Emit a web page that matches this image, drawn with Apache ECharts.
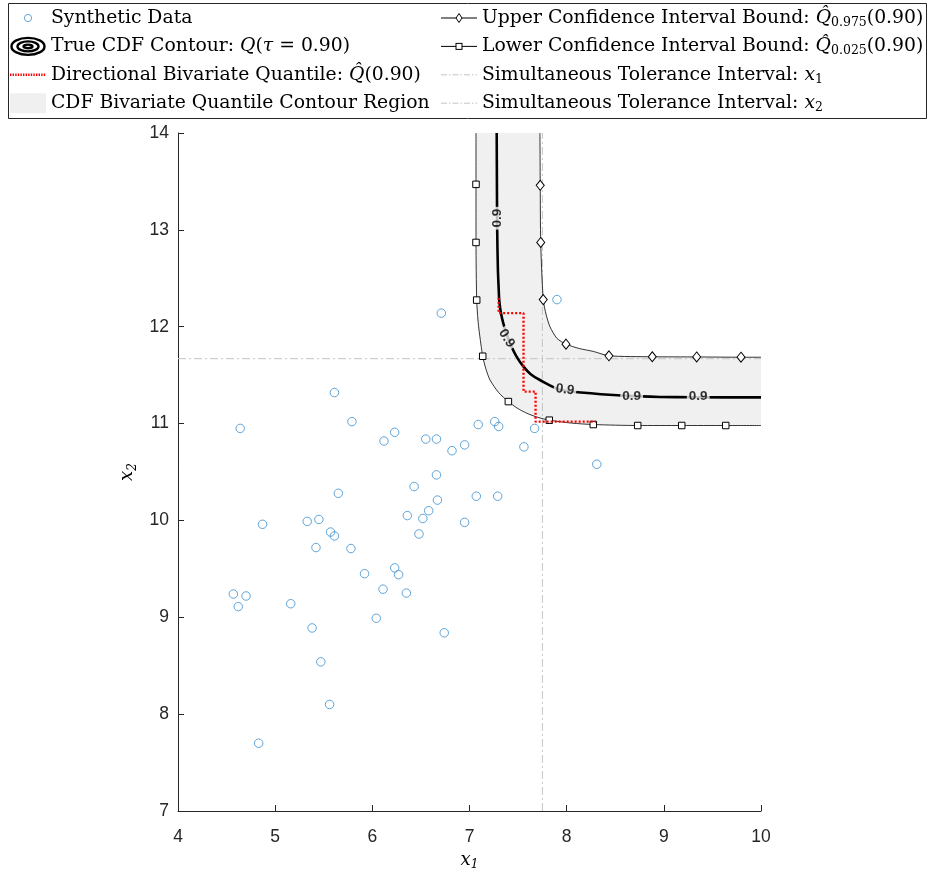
<!DOCTYPE html>
<html>
<head>
<meta charset="utf-8">
<script src="https://cdn.jsdelivr.net/npm/echarts@6/dist/echarts.min.js"></script>
<style>html,body{margin:0;padding:0;background:#fff}#c{width:928px;height:869px}</style>
</head>
<body>
<div id="c"></div>
<script>
// ---------- data ----------
const scatterX = [6.71,7.90,4.64,5.79,5.61,6.12,6.23,6.55,6.66,6.82,6.95,7.09,7.26,7.30,7.56,7.67,8.31,6.66,6.43,5.65,6.67,7.07,7.29,4.87,5.33,5.45,5.57,5.61,5.42,5.78,6.36,6.58,6.52,6.48,6.95,5.92,6.23,6.27,6.11,6.35,4.57,4.70,4.62,5.16,6.04,5.38,5.47,6.74,5.56,4.83];
const scatterY = [12.14,12.28,10.95,11.02,11.32,10.82,10.91,10.84,10.84,10.72,10.78,10.99,11.02,10.97,10.76,10.95,10.58,10.47,10.35,10.28,10.21,10.25,10.25,9.96,9.99,10.01,9.88,9.84,9.72,9.71,10.05,10.10,10.02,9.86,9.98,9.45,9.51,9.44,9.29,9.25,9.24,9.22,9.11,9.14,8.99,8.89,8.54,8.84,8.10,7.70];

const contourX = [7.280,7.282,7.285,7.292,7.300,7.306,7.322,7.348,7.380,7.417,7.480,7.554,7.630,7.725,7.931,8.274,8.618,8.960,9.303,10.0];
const contourY = [14.00,13.50,13.00,12.60,12.40,12.275,12.15,12.035,11.93,11.83,11.70,11.59,11.51,11.45,11.35,11.31,11.286,11.275,11.272,11.27];

const upperX = [7.725,7.728,7.733,7.759,7.790,7.828,7.900,7.993,8.130,8.274,8.435,8.881,9.338,9.794,10.0];
const upperY = [14.00,13.46,12.87,12.28,12.12,12.00,11.88,11.82,11.775,11.745,11.70,11.69,11.688,11.685,11.685];
const upperMarkers = [1,2,3,7,10,11,12,13];

const lowerX = [7.067,7.067,7.067,7.074,7.087,7.100,7.136,7.170,7.211,7.300,7.400,7.490,7.589,7.700,7.821,8.050,8.274,8.731,9.184,9.637,10.0];
const lowerY = [14.00,13.47,12.87,12.275,12.07,11.95,11.695,11.56,11.45,11.32,11.227,11.16,11.107,11.065,11.035,11.005,10.99,10.98,10.98,10.98,10.98];
const lowerMarkers = [1,2,3,6,10,14,16,17,18,19];

const quantX = [7.30,7.30,7.556,7.556,7.68,7.68,8.30];
const quantY = [12.30,12.14,12.14,11.33,11.33,11.02,11.02];

const tolX1 = 7.75;
const tolX2 = 11.67;

const labelX = [7.283,7.383,7.983,8.669,9.354];
const labelY = [13.12,11.88,11.35,11.28,11.28];
const labelRot = [90,-58,-8,0,0];

const xTicks = [4,5,6,7,8,9,10];
const yTicks = [7,8,9,10,11,12,13,14];

// ---------- names ----------
const N = {
  data: 'Synthetic Data',
  contour: 'True CDF Contour',
  quant: 'Directional Bivariate Quantile',
  band: 'CDF Bivariate Quantile Contour Region',
  upper: 'Upper Confidence Interval Bound',
  lower: 'Lower Confidence Interval Bound',
  tol1: 'Simultaneous Tolerance Interval x1',
  tol2: 'Simultaneous Tolerance Interval x2'
};
const QH = 'Q\u0302';
const legendText = {};
legendText[N.data] = 'Synthetic Data';
legendText[N.contour] = 'True CDF Contour: {i|Q}({i|\u03c4} = 0.90)';
legendText[N.quant] = 'Directional Bivariate Quantile: {i|' + QH + '}(0.90)';
legendText[N.band] = 'CDF Bivariate Quantile Contour Region';
legendText[N.upper] = 'Upper Confidence Interval Bound: {i|' + QH + '}{s|0.975}(0.90)';
legendText[N.lower] = 'Lower Confidence Interval Bound: {i|' + QH + '}{s|0.025}(0.90)';
legendText[N.tol1] = 'Simultaneous Tolerance Interval: {i|x}{s|1}';
legendText[N.tol2] = 'Simultaneous Tolerance Interval: {i|x}{s|2}';

// ---------- icons ----------
function svgIcon(body) {
  const s = "<svg xmlns='http://www.w3.org/2000/svg' width='72' height='44' viewBox='0 0 36 22'>" + body + "</svg>";
  return 'image://data:image/svg+xml;charset=utf-8,' + encodeURIComponent(s);
}
const icons = {};
icons[N.data] = svgIcon("<circle cx='18' cy='11' r='3.6' fill='none' stroke='#3a8fd0' stroke-width='1'/>");
icons[N.contour] = svgIcon("<g fill='none' stroke='#000' stroke-width='2.4'><ellipse cx='18' cy='11' rx='16.5' ry='8.5'/><ellipse cx='18' cy='11' rx='10.5' ry='5'/><ellipse cx='18' cy='11' rx='4.5' ry='1.8'/></g>");
icons[N.quant] = svgIcon("<line x1='0' y1='11' x2='36' y2='11' stroke='#ff0000' stroke-width='2.4' stroke-dasharray='1.4 1.2'/>");
icons[N.band] = svgIcon("<rect x='0' y='1' width='36' height='20' fill='#f0f0f0'/>");
icons[N.upper] = svgIcon("<line x1='0' y1='11' x2='36' y2='11' stroke='#000' stroke-width='1'/><polygon points='18,6.5 21,11 18,15.5 15,11' fill='#fff' stroke='#000' stroke-width='1'/>");
icons[N.lower] = svgIcon("<line x1='0' y1='11' x2='36' y2='11' stroke='#000' stroke-width='1'/><rect x='15' y='8' width='6' height='6' fill='#fff' stroke='#000' stroke-width='1'/>");
icons[N.tol1] = svgIcon("<line x1='0' y1='11' x2='36' y2='11' stroke='#c4c4c4' stroke-width='1' stroke-dasharray='6 2 1.5 2'/>");
icons[N.tol2] = icons[N.tol1];

// ---------- build ----------
const zip = (xs, ys) => xs.map((x, i) => [x, ys[i]]);
const withMarkers = (xs, ys, marks, sym) => xs.map((x, i) => ({
  value: [x, ys[i]],
  symbol: marks.indexOf(i) >= 0 ? sym : 'none'
}));
const bandPts = zip(lowerX, lowerY).concat(zip(upperX, upperY).reverse());

const serif = 'DejaVu Serif';
const FS = 18.8;
const rich = {
  i: { fontFamily: serif, fontStyle: 'italic', fontSize: FS, color: '#000', lineHeight: 22 },
  s: { fontFamily: serif, fontSize: 12.5, color: '#000', verticalAlign: 'bottom', lineHeight: 22 }
};
function mkLegend(names, left) {
  return {
    orient: 'vertical', left: left, top: 7, itemWidth: 36, itemHeight: 22, itemGap: 6.4,
    padding: 0, selectedMode: false, symbolKeepAspect: false,
    data: names.map(n => ({ name: n, icon: icons[n] })),
    formatter: n => legendText[n],
    textStyle: { fontFamily: serif, fontSize: FS, color: '#000', lineHeight: 22, rich: rich }
  };
}

const axisCommon = {
  type: 'value',
  axisLine: { show: true, lineStyle: { color: '#262626', width: 1 } },
  axisTick: { show: true, inside: true, length: 6, lineStyle: { color: '#262626' } },
  axisLabel: { color: '#262626', fontSize: 17.5, fontFamily: 'Liberation Sans' },
  splitLine: { show: false },
  nameLocation: 'middle',
  nameTextStyle: {
    fontFamily: serif, fontStyle: 'italic', fontSize: 18, color: '#000',
    rich: {
      i: { fontFamily: serif, fontStyle: 'italic', fontSize: 18, color: '#000', lineHeight: 22 },
      s: { fontFamily: serif, fontSize: 12, color: '#000', verticalAlign: 'bottom', lineHeight: 22 }
    }
  }
};

const option = {
  animation: false,
  backgroundColor: '#fff',
  grid: { left: 178, right: 167, top: 133, bottom: 58, containLabel: false, outerBoundsMode: 'none' },
  xAxis: Object.assign({}, axisCommon, {
    min: xTicks[0], max: xTicks[xTicks.length - 1], interval: 1,
    name: '{i|x}{s|1}', nameGap: 36,
    axisLabel: Object.assign({}, axisCommon.axisLabel, { margin: 17 })
  }),
  yAxis: Object.assign({}, axisCommon, {
    min: yTicks[0], max: yTicks[yTicks.length - 1], interval: 1,
    name: '{i|x}{s|2}', nameGap: 36, nameRotate: 90,
    axisLabel: Object.assign({}, axisCommon.axisLabel, { margin: 9 })
  }),
  legend: [
    mkLegend([N.data, N.contour, N.quant, N.band], 10),
    mkLegend([N.upper, N.lower, N.tol1, N.tol2], 441)
  ],
  graphic: [{
    type: 'rect', silent: true, z: -1,
    shape: { x: 8.5, y: 3.5, width: 918, height: 115 },
    style: { fill: '#fff', stroke: '#262626', lineWidth: 1 }
  }],
  series: [
    {
      type: 'custom', name: N.band, z: 1, silent: true,
      data: [[7, 11]],
      renderItem: (params, api) => ({
        type: 'polygon',
        shape: { points: bandPts.map(p => api.coord(p)) },
        style: { fill: '#f0f0f0', stroke: 'none' }
      })
    },
    {
      type: 'line', name: N.tol1, z: 2, silent: true, symbol: 'none',
      data: [[tolX1, yTicks[0]], [tolX1, yTicks[yTicks.length - 1]]],
      lineStyle: { color: '#c4c4c4', width: 1, type: [8, 3, 2, 3] }
    },
    {
      type: 'line', name: N.tol2, z: 2, silent: true, symbol: 'none',
      data: [[xTicks[0], tolX2], [xTicks[xTicks.length - 1], tolX2]],
      lineStyle: { color: '#c4c4c4', width: 1, type: [8, 3, 2, 3] }
    },
    {
      type: 'scatter', name: N.data, z: 3, silent: true,
      data: zip(scatterX, scatterY), symbol: 'circle', symbolSize: 8.5,
      itemStyle: { color: 'rgba(0,0,0,0)', borderColor: '#3a8fd0', borderWidth: 1 }
    },
    {
      type: 'line', name: N.upper, z: 4, silent: true, smooth: 0.25,
      symbol: 'diamond', symbolSize: [8, 10], showSymbol: true, showAllSymbol: true,
      data: withMarkers(upperX, upperY, upperMarkers, 'diamond'),
      lineStyle: { color: '#000', width: 0.8 },
      itemStyle: { color: '#fff', borderColor: '#000', borderWidth: 1 }
    },
    {
      type: 'line', name: N.lower, z: 4, silent: true, smooth: 0.25,
      symbol: 'rect', symbolSize: 6.5, showSymbol: true, showAllSymbol: true,
      data: withMarkers(lowerX, lowerY, lowerMarkers, 'rect'),
      lineStyle: { color: '#000', width: 0.8 },
      itemStyle: { color: '#fff', borderColor: '#000', borderWidth: 1 }
    },
    {
      type: 'line', name: N.contour, z: 5, silent: true, smooth: 0.25, symbol: 'none',
      data: zip(contourX, contourY),
      lineStyle: { color: '#000', width: 2.6 }
    },
    {
      type: 'scatter', name: 'contourLabels', z: 6, silent: true,
      symbolSize: 1, itemStyle: { color: 'rgba(0,0,0,0)' },
      data: labelX.map((x, i) => ({ value: [x, labelY[i]], label: { rotate: labelRot[i] } })),
      label: {
        show: true, position: 'inside', formatter: '0.9',
        fontFamily: 'Liberation Sans', fontSize: 13.5, fontWeight: 'bold', color: '#000',
        backgroundColor: '#f0f0f0', padding: [1, 2]
      }
    },
    {
      type: 'line', name: N.quant, z: 7, silent: true, symbol: 'none',
      data: zip(quantX, quantY),
      lineStyle: { color: '#ff0000', width: 2.4, type: [2, 2] }
    }
  ]
};

const chart = echarts.init(document.getElementById('c'), null, { renderer: 'canvas' });
chart.setOption(option);
</script>
</body>
</html>
